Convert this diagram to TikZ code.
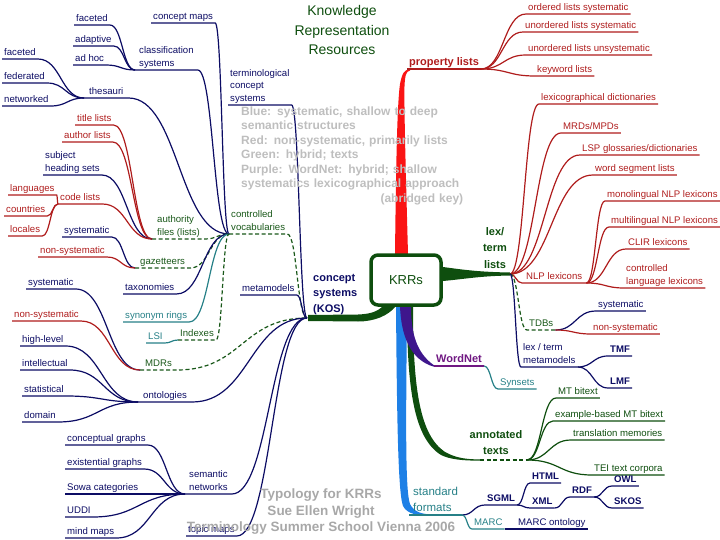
\documentclass[tikz,border=0pt]{standalone}
\usepackage{fontspec}
\setmainfont{Liberation Sans}
\usetikzlibrary{calc}
\definecolor{mnavy}{RGB}{12,12,100}
\definecolor{mred}{RGB}{175,28,28}
\definecolor{mgreen}{RGB}{25,88,25}
\definecolor{mteal}{RGB}{38,128,135}
\definecolor{mpurple}{RGB}{112,24,130}
\definecolor{trunkgreen}{RGB}{14,78,14}
\definecolor{trunkred}{RGB}{250,20,20}
\definecolor{trunkblue}{RGB}{30,128,230}
\definecolor{trunkpurple}{RGB}{62,22,140}
\definecolor{keygray}{RGB}{190,190,190}
\definecolor{footgray}{RGB}{168,168,168}
\tikzset{
  leaf/.style={anchor=south west, inner xsep=2pt, inner ysep=1.5pt, text depth=2pt, align=left, font=\fontsize{9.6}{12.5}\selectfont},
  leaf bold/.style={leaf, font=\fontsize{9.6}{12.5}\selectfont\bfseries},
  hub/.style={leaf, font=\fontsize{11}{15.5}\selectfont\bfseries},
  connect/.style={line width=1.2pt},
  dashline/.style={dash pattern=on 4pt off 2.5pt},
  branch/.style={to path={let \p1=(\tikztostart), \p2=(\tikztotarget) in
      .. controls ({0.5*\x1+0.5*\x2},\y1) and ({0.5*\x1+0.5*\x2},\y2) .. (\p2) \tikztonodes}}
}

\begin{document}
\begin{tikzpicture}[x=1pt, y=-1pt]
  \useasboundingbox (0,0) rectangle (720,540);

  % title
  \node[font=\fontsize{14}{19.5}\selectfont, text=trunkgreen, align=center] (title) at (342,30) {Knowledge\\Representation\\Resources};

  % trunks out of the box
  \fill[trunkred] (395,254) .. controls (396,170) and (397,105) .. (400,84) .. controls (402,74) and (404,69.4) .. (410,69.4)
    -- (410,70.6) .. controls (406,71) and (405,76) .. (404.5,86) .. controls (404,110) and (406,180) .. (408,254) -- cycle;
  \fill[trunkgreen] (443,267) .. controls (465,270) and (480,272) .. (510,272.5) -- (510,275.5) .. controls (480,276) and (465,279) .. (443,281) -- cycle;
  \fill[trunkgreen] (383,306) .. controls (377,312) and (370,314) .. (358,314.5) -- (308,315) -- (308,321) -- (358,321.5) .. controls (374,321.5) and (388,316) .. (396,306) -- cycle;
  \fill[trunkgreen] (407,306) -- (413,306) .. controls (413,390) and (420,435) .. (445,452) .. controls (456,458) and (466,459.4) .. (480,459.4)
    -- (480,460.6) .. controls (464,460.8) and (450,459.5) .. (441,455) .. controls (414,438) and (407,390) .. (407,306) -- cycle;
  \fill[trunkblue] (396,306) -- (407,306) .. controls (406,420) and (405,490) .. (410,504) .. controls (414,512) and (422,514.3) .. (432,514.4)
    -- (432,515.6) .. controls (418,516) and (407,514) .. (403,506) .. controls (398,492) and (397,420) .. (396,306) -- cycle;
  \fill[trunkpurple] (400,306) -- (411,306) .. controls (411,330) and (415,352) .. (434,365.3) -- (434,366.7) .. controls (410,360) and (401,335) .. (400,306) -- cycle;

  % centre
  \node[draw=trunkgreen, fill=white, line width=3.5pt, rounded corners=7pt, minimum width=70pt, minimum height=50pt,
    font=\fontsize{13}{15}\selectfont, text=trunkgreen] (krr) at (406,280) {KRRs};

  % concept systems (KOS)
  \node[hub, mnavy] (kos) at (311,316) {concept\\systems\\(KOS)};
  \coordinate (kosj) at (307,318);
  \node[leaf, mnavy] (tcs) at (228,105) {terminological\\concept\\systems};
  \node[leaf, mgreen] (cv) at (229,234) {controlled\\vocabularies};
  \node[leaf, mnavy] (meta) at (240,295) {metamodels};
  \node[leaf, mgreen, inner xsep=5pt] (mdr) at (140,370) {MDRs};
  \node[leaf, mnavy, inner xsep=5pt] (onto) at (138,402) {ontologies};
  \node[leaf, mnavy, inner xsep=4pt] (semnet) at (185,494) {semantic\\networks};
  \node[leaf, mnavy] (topic) at (186,536) {topic maps};
  \foreach \nm/\cl/\st in {tcs/mnavy/solid, cv/mgreen/dashline, meta/mnavy/solid, mdr/mgreen/dashline,
      onto/mnavy/solid, semnet/mnavy/solid, topic/mnavy/solid}
    \draw[connect, \cl, \st] (\nm.south west) -- (\nm.south east) to[branch] (kosj);

  % controlled vocabularies
  \node[leaf, mnavy] (cmap) at (151,23) {concept maps};
  \node[leaf, mnavy, inner xsep=4pt] (clsys) at (135,70) {classification\\systems};
  \node[leaf, mnavy, inner xsep=5pt] (thes) at (84,98) {thesauri};
  \node[leaf, mgreen, inner xsep=5pt] (auth) at (152,239) {authority\\files (lists)};
  \node[leaf, mgreen, inner xsep=5pt] (gaz) at (135,268) {gazetteers};
  \node[leaf, mnavy] (taxo) at (123,294) {taxonomies};
  \node[leaf, mteal] (synr) at (123,322) {synonym rings};
  \node[leaf, mgreen] (idx) at (178,340) {Indexes};
  \foreach \nm/\cl/\st in {cmap/mnavy/solid, clsys/mnavy/solid, thes/mnavy/solid, auth/mgreen/dashline,
      gaz/mgreen/dashline, taxo/mnavy/solid, synr/mteal/solid, idx/mgreen/dashline}
    \draw[connect, \cl, \st] (\nm.south west) -- (\nm.south east) to[branch] (cv.south west);

  \foreach \nm/\xx/\yy/\tx in {fac1/74/25/faceted, adap/73/46/adaptive, adhoc/73/65/ad hoc} {
    \node[leaf, mnavy] (\nm) at (\xx,\yy) {\tx};
    \draw[connect, mnavy] (\nm.south west) -- (\nm.south east) to[branch] (clsys.south west);
  }
  \foreach \nm/\xx/\yy/\tx in {fac2/2/59/faceted, fed/2/83/federated, netw/2/106/networked} {
    \node[leaf, mnavy] (\nm) at (\xx,\yy) {\tx};
    \draw[connect, mnavy] (\nm.south west) -- (\nm.south east) to[branch] (thes.south west);
  }
  \foreach \nm/\cl/\xx/\yy/\tx in {titl/mred/75/125/title lists, autl/mred/62/142/author lists,
      subj/mnavy/43/175/{subject\\heading sets}, code/mred/58/204/code lists} {
    \node[leaf, \cl] (\nm) at (\xx,\yy) {\tx};
    \draw[connect, \cl] (\nm.south west) -- (\nm.south east) to[branch] (auth.south west);
  }
  \foreach \nm/\xx/\yy/\tx in {lang/8/195/languages, ctry/4/216/countries, loc/8/236/locales} {
    \node[leaf, mred] (\nm) at (\xx,\yy) {\tx};
    \draw[connect, mred] (\nm.south west) -- (\nm.south east) to[branch] (code.south west);
  }
  \foreach \nm/\cl/\xx/\yy/\tx in {sys1/mnavy/62/237/systematic, nsys1/mred/38/257/non-systematic} {
    \node[leaf, \cl] (\nm) at (\xx,\yy) {\tx};
    \draw[connect, \cl] (\nm.south west) -- (\nm.south east) to[branch] (gaz.south west);
  }
  \node[leaf, mteal] (lsi) at (146,343) {LSI};
  \draw[connect, mteal] (lsi.south west) -- (lsi.south east) to[branch] (idx.south west);

  % MDRs, ontologies, semantic networks
  \foreach \nm/\cl/\xx/\yy/\tx in {sys2/mnavy/26/289/systematic, nsys2/mred/12/321/non-systematic} {
    \node[leaf, \cl] (\nm) at (\xx,\yy) {\tx};
    \draw[connect, \cl] (\nm.south west) -- (\nm.south east) to[branch] (mdr.south west);
  }
  \foreach \nm/\xx/\yy/\tx in {high/20/346/high-level, intel/20/370/intellectual, stat/22/396/statistical, dom/22/422/domain} {
    \node[leaf, mnavy] (\nm) at (\xx,\yy) {\tx};
    \draw[connect, mnavy] (\nm.south west) -- (\nm.south east) to[branch] (onto.south west);
  }
  \foreach \nm/\xx/\yy/\tx in {cg/65/445/conceptual graphs, eg/65/469/existential graphs, sowa/65/494/Sowa categories,
      uddi/65/517/UDDI, mind/65/538/mind maps} {
    \node[leaf, mnavy] (\nm) at (\xx,\yy) {\tx};
    \draw[connect, mnavy] (\nm.south west) -- (\nm.south east) to[branch] (semnet.south west);
  }

  % property lists
  \node[hub, mred] (pl) at (407,69) {property lists};
  \draw[connect, mred] (pl.south west) -- (pl.south east);
  \foreach \nm/\xx/\yy/\tx in {ols/526/14/ordered lists systematic, uls/523/32/unordered lists systematic,
      ulu/526/55/unordered lists unsystematic, kwl/535/76/keyword lists} {
    \node[leaf, mred] (\nm) at (\xx,\yy) {\tx};
    \draw[connect, mred] (pl.south east) to[branch] (\nm.south west) -- (\nm.south east);
  }

  % lex/term lists
  \node[hub, trunkgreen, align=center, anchor=south, font=\fontsize{11}{16.5}\selectfont\bfseries] (lex) at (495,272) {lex/\\term\\lists};
  \coordinate (lexj) at (510,274);
  \foreach \nm/\xx/\yy/\tx in {lexd/539/104/lexicographical dictionaries, mrd/561/133/{MRDs/MPDs},
      lsp/580/155/{LSP glossaries/dictionaries}, wsl/593/175/word segment lists} {
    \node[leaf, mred] (\nm) at (\xx,\yy) {\tx};
    \draw[connect, mred] (lexj) to[branch] (\nm.south west) -- (\nm.south east);
  }
  \node[leaf, mred, inner xsep=4pt] (nlp) at (522,283) {NLP lexicons};
  \draw[connect, mred] (lexj) to[branch] (nlp.south west) -- (nlp.south east);
  \foreach \nm/\xx/\yy/\tx in {mono/605/201/monolingual NLP lexicons, multi/609/227/multilingual NLP lexicons,
      clir/626/249/CLIR lexicons, ctrl/624/288/{controlled\\language lexicons}} {
    \node[leaf, mred] (\nm) at (\xx,\yy) {\tx};
    \draw[connect, mred] (nlp.south east) to[branch] (\nm.south west) -- (\nm.south east);
  }
  \node[leaf, mgreen] (tdb) at (527,330) {TDBs};
  \draw[connect, mgreen, dashline] (lexj) to[branch] (tdb.south west) -- (tdb.south east);
  \foreach \nm/\cl/\xx/\yy/\tx in {sys3/mnavy/596/311/systematic, nsys3/mred/591/334/non-systematic} {
    \node[leaf, \cl] (\nm) at (\xx,\yy) {\tx};
    \draw[connect, \cl] (tdb.south east) to[branch] (\nm.south west) -- (\nm.south east);
  }
  \node[leaf, mnavy] (ltm) at (521,367) {lex / term\\metamodels};
  \draw[connect, mnavy] (lexj) to[branch] (ltm.south west) -- (ltm.south east);
  \node[leaf bold, mnavy] (tmf) at (608,356) {TMF};
  \node[leaf bold, mnavy] (lmf) at (608,388) {LMF};
  \draw[connect, mnavy] (ltm.south east) to[branch] (tmf.south west) -- (tmf.south east);
  \draw[connect, mnavy] (ltm.south east) to[branch] (lmf.south west) -- (lmf.south east);

  % WordNet
  \node[hub, mpurple] (wn) at (434,366) {WordNet};
  \draw[connect, mpurple] (wn.south west) -- (wn.south east);
  \node[leaf, mteal] (syns) at (498,389) {Synsets};
  \draw[connect, mteal] (wn.south east) to[branch] (syns.south west) -- (syns.south east);

  % annotated texts
  \node[hub, trunkgreen, align=center, anchor=south] (ann) at (496,458) {annotated\\texts};
  \coordinate (annd) at (480,460);
  \coordinate (annj) at (527,460);
  \draw[connect, trunkgreen, dashline] (annd) -- (annj);
  \foreach \nm/\xx/\yy/\tx in {mtb/556/398/MT bitext, ebmt/553/421/example-based MT bitext,
      trm/571/440/translation memories, tei/592/475/TEI text corpora} {
    \node[leaf, trunkgreen] (\nm) at (\xx,\yy) {\tx};
    \draw[connect, trunkgreen] (annj) to[branch] (\nm.south west) -- (\nm.south east);
  }

  % standard formats
  \node[leaf, mteal, inner xsep=4pt, font=\fontsize{11.5}{16}\selectfont] (sf) at (409,515) {standard\\formats};
  \draw[connect, mteal] (sf.south west) -- (sf.south east);
  \node[leaf bold, mnavy] (sgml) at (485,505) {SGML};
  \draw[connect, mnavy] (sf.south east) to[branch] (sgml.south west) -- (sgml.south east);
  \node[leaf bold, mnavy] (html) at (530,483) {HTML};
  \node[leaf bold, mnavy] (xml) at (530,508) {XML};
  \draw[connect, mnavy] (sgml.south east) to[branch] (html.south west) -- (html.south east);
  \draw[connect, mnavy] (sgml.south east) to[branch] (xml.south west) -- (xml.south east);
  \node[leaf bold, mnavy] (rdf) at (570,497) {RDF};
  \draw[connect, mnavy] (xml.south east) to[branch] (rdf.south west) -- (rdf.south east);
  \node[leaf bold, mnavy] (owl) at (612,486) {OWL};
  \node[leaf bold, mnavy] (skos) at (612,508) {SKOS};
  \draw[connect, mnavy] (rdf.south east) to[branch] (owl.south west) -- (owl.south east);
  \draw[connect, mnavy] (rdf.south east) to[branch] (skos.south west) -- (skos.south east);
  \node[leaf, mteal] (marc) at (472,529) {MARC};
  \draw[connect, mteal] (sf.south east) to[branch] (marc.south west) -- (marc.south east);
  \node[leaf, mnavy] (mo) at (516,529) {MARC ontology};
  \draw[connect, mnavy] (marc.south east) -- (mo.south west) -- (mo.south east);

  % key and footer
  \node[anchor=north west, inner sep=0pt, text width=222pt, align=left, text=keygray,
    font=\fontsize{12}{14.5}\selectfont\bfseries] (key) at (241,106.3)
    {Blue: systematic, shallow to deep\\semantic structures\\Red: non-systematic, primarily lists\\Green: hybrid; texts\\
     Purple: WordNet: hybrid; shallow\\systematics lexicographical approach\\\hspace*{\fill}(abridged key)};
  \node[align=center, text=footgray, font=\fontsize{13.5}{16.5}\selectfont\bfseries] (foot) at (321,512)
    {Typology for KRRs\\Sue Ellen Wright\\Terminology Summer School Vienna 2006};

\end{tikzpicture}
\end{document}
